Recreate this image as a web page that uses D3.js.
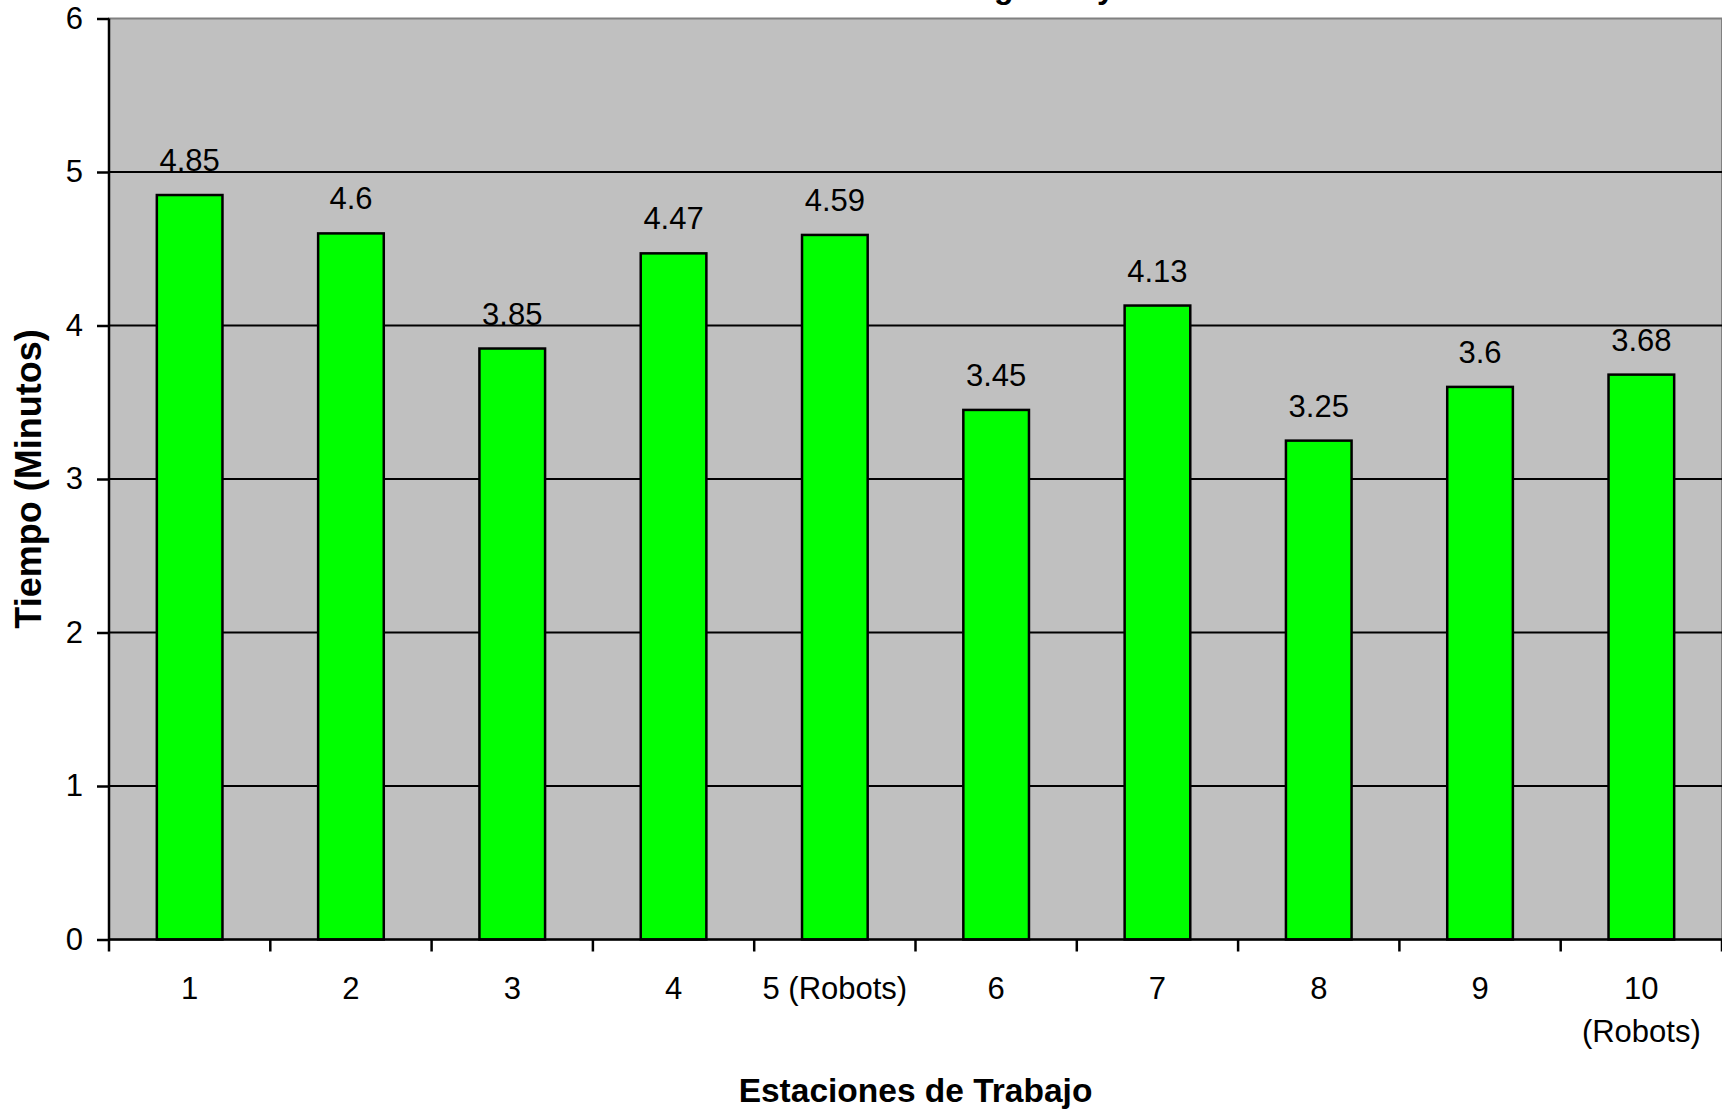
<!DOCTYPE html>
<html>
<head>
<meta charset="utf-8">
<script src="https://cdn.jsdelivr.net/npm/d3@7"></script>
<style>
  html, body { margin: 0; padding: 0; background: #ffffff; overflow: hidden; }
  svg { display: block; font-family: "Liberation Sans", Arial, sans-serif; }
</style>
</head>
<body>
<svg id="chart" width="1722" height="1111"></svg>
<script>
// Station names (line breaks mark wrapped labels) and cycle time in minutes
const estaciones = ["1", "2", "3", "4", "5 (Robots)", "6", "7", "8", "9", "10\n(Robots)"];
const tiempos = [4.85, 4.6, 3.85, 4.47, 4.59, 3.45, 4.13, 3.25, 3.6, 3.68];
const yTicks = [0, 1, 2, 3, 4, 5, 6];

const titulo = "Duración Asignada y Real";
const tituloX = "Estaciones de Trabajo";
const tituloY = "Tiempo (Minutos)";

const svg = d3.select("#chart");
const plot = { left: 109, right: 1722, top: 18.5, bottom: 939.5 };

const gapRatio = 0.593;
const x = d3.scaleBand()
  .domain(estaciones)
  .range([plot.left, plot.right])
  .paddingInner(gapRatio)
  .paddingOuter(gapRatio / 2);

const y = d3.scaleLinear()
  .domain([0, 6])
  .range([plot.bottom, plot.top]);

// Chart title (mostly above the visible frame)
svg.append("text")
  .attr("x", 994.5)
  .attr("y", -2)
  .attr("text-anchor", "middle")
  .attr("font-size", 32)
  .attr("font-weight", "bold")
  .attr("fill", "#000")
  .text(titulo);

// Plot background
svg.append("rect")
  .attr("x", plot.left)
  .attr("y", plot.top)
  .attr("width", plot.right - plot.left)
  .attr("height", plot.bottom - plot.top)
  .attr("fill", "#c0c0c0")
  .attr("stroke", "#808080")
  .attr("stroke-width", 2);

// Horizontal gridlines
svg.append("g")
  .selectAll("line")
  .data(yTicks.filter(d => d > 0 && d < 6))
  .join("line")
  .attr("x1", plot.left)
  .attr("x2", plot.right)
  .attr("y1", d => y(d))
  .attr("y2", d => y(d))
  .attr("stroke", "#000")
  .attr("stroke-width", 2);

// Bars
svg.append("g")
  .selectAll("rect")
  .data(tiempos)
  .join("rect")
  .attr("x", (d, i) => x(estaciones[i]))
  .attr("y", d => y(d))
  .attr("width", x.bandwidth())
  .attr("height", d => y(0) - y(d))
  .attr("fill", "#00ff00")
  .attr("stroke", "#000")
  .attr("stroke-width", 2.5);

// Value labels
svg.append("g")
  .selectAll("text")
  .data(tiempos)
  .join("text")
  .attr("x", (d, i) => x(estaciones[i]) + x.bandwidth() / 2)
  .attr("y", d => y(d) - 24)
  .attr("text-anchor", "middle")
  .attr("font-size", 31)
  .attr("fill", "#000")
  .text(d => String(d));

// Y axis
const yAxis = svg.append("g")
  .attr("transform", `translate(${plot.left},0)`)
  .call(d3.axisLeft(y).tickValues(yTicks).tickFormat(d3.format("d")).tickSize(12).tickPadding(14));
yAxis.select(".domain").attr("stroke", "#000").attr("stroke-width", 2.5).attr("d", `M0,${plot.top}V${plot.bottom}`);
yAxis.selectAll(".tick line").attr("stroke", "#000").attr("stroke-width", 2.5);
yAxis.selectAll(".tick text")
  .attr("font-size", 31)
  .attr("font-family", "'Liberation Sans', Arial, sans-serif")
  .attr("fill", "#000");

// X axis line and category separators
const xAxis = svg.append("g").attr("transform", `translate(0,${plot.bottom})`);
xAxis.append("line")
  .attr("x1", plot.left)
  .attr("x2", plot.right)
  .attr("stroke", "#000")
  .attr("stroke-width", 2.5);
const bounds = d3.range(estaciones.length + 1).map(i => plot.left + i * x.step());
xAxis.selectAll("line.sep")
  .data(bounds)
  .join("line")
  .attr("class", "sep")
  .attr("x1", d => d)
  .attr("x2", d => d)
  .attr("y1", 0)
  .attr("y2", 12)
  .attr("stroke", "#000")
  .attr("stroke-width", 2.5);

// Category labels
const catLabels = svg.append("g")
  .selectAll("text")
  .data(estaciones)
  .join("text")
  .attr("x", d => x(d) + x.bandwidth() / 2)
  .attr("y", 999)
  .attr("text-anchor", "middle")
  .attr("font-size", 31)
  .attr("fill", "#000");
catLabels.each(function (d) {
  const t = d3.select(this);
  d.split("\n").forEach((line, i) => {
    t.append("tspan")
      .attr("x", x(d) + x.bandwidth() / 2)
      .attr("dy", i === 0 ? 0 : 43)
      .text(line);
  });
});

// Axis titles
svg.append("text")
  .attr("x", (plot.left + plot.right) / 2)
  .attr("y", 1102)
  .attr("text-anchor", "middle")
  .attr("font-size", 33.5)
  .attr("font-weight", "bold")
  .attr("fill", "#000")
  .text(tituloX);

svg.append("text")
  .attr("transform", `translate(41,${(plot.top + plot.bottom) / 2}) rotate(-90)`)
  .attr("text-anchor", "middle")
  .attr("font-size", 36)
  .attr("font-weight", "bold")
  .attr("fill", "#000")
  .text(tituloY);
</script>
</body>
</html>
